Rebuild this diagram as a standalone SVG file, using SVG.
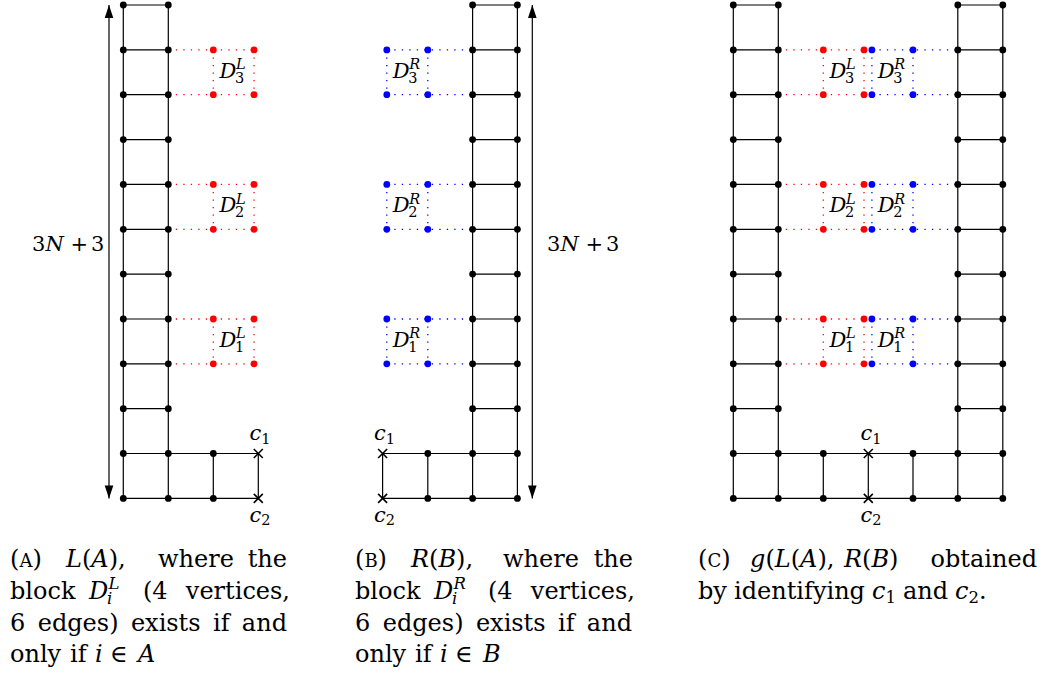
<svg xmlns="http://www.w3.org/2000/svg" width="1042" height="679" viewBox="0 0 1042 679" font-family="'DejaVu Serif', serif">
<style>
.e{fill:none;stroke:#000;stroke-width:1.2}
.r{fill:none;stroke:#f00;stroke-width:1.3;stroke-dasharray:1.3 6.2}
.b{fill:none;stroke:#00f;stroke-width:1.3;stroke-dasharray:1.3 6.2}
.ar{fill:none;stroke:#000;stroke-width:1.2}
text{font-family:"DejaVu Serif",serif;fill:#000}
.it{font-style:italic}
.up{font-style:normal}
.fl{font-size:21px}
.fs{font-size:14.5px}
.cp{font-size:24px}
.cs{font-size:16.5px}
.sc{font-size:18px}
</style>
<defs>
<circle id="v" r="3.4" fill="#000"/>
<circle id="vr" r="3.4" fill="#f00"/>
<circle id="vb" r="3.4" fill="#00f"/>
<path id="cx" d="M-4.5 -4.5L4.5 4.5M-4.5 4.5L4.5 -4.5" stroke="#000" stroke-width="1.6" fill="none"/>
<marker id="ah" markerUnits="userSpaceOnUse" markerWidth="16" markerHeight="12" viewBox="-14 -6 16 12" refX="0" refY="0" orient="auto-start-reverse">
<path d="M0 0L-13 -4.3L-13 4.3Z" fill="#000"/>
</marker>
</defs>
<rect width="1042" height="679" fill="#fff"/>

<g id="connectors">
<path class="e" d="M123.3 5V498.4M168.3 5V498.4M123.3 5H168.3M123.3 49.9H168.3M123.3 94.7H168.3M123.3 139.6H168.3M123.3 184.4H168.3M123.3 229.3H168.3M123.3 274.1H168.3M123.3 319H168.3M123.3 363.8H168.3M123.3 408.7H168.3M123.3 453.5H258.3M123.3 498.4H258.3M213.3 453.5V498.4M258.3 453.5V498.4"/>
<path class="r" d="M168.3 49.9H254M168.3 94.7H254M213.3 49.9V94.7M254 49.9V94.7M168.3 184.4H254M168.3 229.3H254M213.3 184.4V229.3M254 184.4V229.3M168.3 319H254M168.3 363.8H254M213.3 319V363.8M254 319V363.8"/>
<path class="e" d="M472.6 5V498.4M517.4 5V498.4M472.6 5H517.4M472.6 49.9H517.4M472.6 94.7H517.4M472.6 139.6H517.4M472.6 184.4H517.4M472.6 229.3H517.4M472.6 274.1H517.4M472.6 319H517.4M472.6 363.8H517.4M472.6 408.7H517.4M382.6 453.5H517.4M382.6 498.4H517.4M382.6 453.5V498.4M427.8 453.5V498.4"/>
<path class="b" d="M386.8 49.9H472.6M386.8 94.7H472.6M386.8 49.9V94.7M427.8 49.9V94.7M386.8 184.4H472.6M386.8 229.3H472.6M386.8 184.4V229.3M427.8 184.4V229.3M386.8 319H472.6M386.8 363.8H472.6M386.8 319V363.8M427.8 319V363.8"/>
<path class="e" d="M733.3 5V498.4M778.3 5V498.4M957.8 5V498.4M1002.8 5V498.4M733.3 5H778.3M733.3 49.9H778.3M733.3 94.7H778.3M733.3 139.6H778.3M733.3 184.4H778.3M733.3 229.3H778.3M733.3 274.1H778.3M733.3 319H778.3M733.3 363.8H778.3M733.3 408.7H778.3M957.8 5H1002.8M957.8 49.9H1002.8M957.8 94.7H1002.8M957.8 139.6H1002.8M957.8 184.4H1002.8M957.8 229.3H1002.8M957.8 274.1H1002.8M957.8 319H1002.8M957.8 363.8H1002.8M957.8 408.7H1002.8M733.3 453.5H1002.8M733.3 498.4H1002.8M823.3 453.5V498.4M868.3 453.5V498.4M913 453.5V498.4"/>
<path class="r" d="M778.3 49.9H864M778.3 94.7H864M823.3 49.9V94.7M864 49.9V94.7M778.3 184.4H864M778.3 229.3H864M823.3 184.4V229.3M864 184.4V229.3M778.3 319H864M778.3 363.8H864M823.3 319V363.8M864 319V363.8"/>
<path class="b" d="M871.9 49.9H957.8M871.9 94.7H957.8M871.9 49.9V94.7M913 49.9V94.7M871.9 184.4H957.8M871.9 229.3H957.8M871.9 184.4V229.3M913 184.4V229.3M871.9 319H957.8M871.9 363.8H957.8M871.9 319V363.8M913 319V363.8"/>
<line id="A-height" class="ar" x1="109" y1="5" x2="109" y2="498.4" marker-start="url(#ah)" marker-end="url(#ah)"/>
<line id="B-height" class="ar" x1="532.3" y1="5" x2="532.3" y2="498.4" marker-start="url(#ah)" marker-end="url(#ah)"/>
</g>

<g id="panelA">
<g id="A-ladder">
<use href="#v" x="123.3" y="5"/><use href="#v" x="168.3" y="5"/>
<use href="#v" x="123.3" y="49.9"/><use href="#v" x="168.3" y="49.9"/>
<use href="#v" x="123.3" y="94.7"/><use href="#v" x="168.3" y="94.7"/>
<use href="#v" x="123.3" y="139.6"/><use href="#v" x="168.3" y="139.6"/>
<use href="#v" x="123.3" y="184.4"/><use href="#v" x="168.3" y="184.4"/>
<use href="#v" x="123.3" y="229.3"/><use href="#v" x="168.3" y="229.3"/>
<use href="#v" x="123.3" y="274.1"/><use href="#v" x="168.3" y="274.1"/>
<use href="#v" x="123.3" y="319"/><use href="#v" x="168.3" y="319"/>
<use href="#v" x="123.3" y="363.8"/><use href="#v" x="168.3" y="363.8"/>
<use href="#v" x="123.3" y="408.7"/><use href="#v" x="168.3" y="408.7"/>
<use href="#v" x="123.3" y="453.5"/><use href="#v" x="168.3" y="453.5"/>
<use href="#v" x="123.3" y="498.4"/><use href="#v" x="168.3" y="498.4"/>
</g>
<g id="A-base">
<use href="#v" x="213.3" y="453.5"/><use href="#v" x="213.3" y="498.4"/>
</g>
<g id="A-c1"><use href="#cx" x="258.3" y="453.5"/><text class="fl it" x="249.5" y="440">c<tspan class="fs up" dy="3.5">1</tspan></text></g>
<g id="A-c2"><use href="#cx" x="258.3" y="498.4"/><text class="fl it" x="249.5" y="521.5">c<tspan class="fs up" dy="3.5">2</tspan></text></g>
<g id="A-D3">
<use href="#vr" x="213.3" y="49.9"/><use href="#vr" x="254" y="49.9"/><use href="#vr" x="213.3" y="94.7"/><use href="#vr" x="254" y="94.7"/>
<text class="fl it" x="219.5" y="77.5">D<tspan class="fs" x="236" dy="-8.5">L</tspan><tspan class="fs up" x="235" dy="13.5">3</tspan></text>
</g>
<g id="A-D2">
<use href="#vr" x="213.3" y="184.4"/><use href="#vr" x="254" y="184.4"/><use href="#vr" x="213.3" y="229.3"/><use href="#vr" x="254" y="229.3"/>
<text class="fl it" x="219.5" y="212">D<tspan class="fs" x="236" dy="-8.5">L</tspan><tspan class="fs up" x="235" dy="13.5">2</tspan></text>
</g>
<g id="A-D1">
<use href="#vr" x="213.3" y="319"/><use href="#vr" x="254" y="319"/><use href="#vr" x="213.3" y="363.8"/><use href="#vr" x="254" y="363.8"/>
<text class="fl it" x="219.5" y="346.6">D<tspan class="fs" x="236" dy="-8.5">L</tspan><tspan class="fs up" x="235" dy="13.5">1</tspan></text>
</g>
<g id="A-label"><text class="fl" x="32" y="251">3<tspan class="it">N</tspan><tspan x="70.5">+</tspan><tspan x="91">3</tspan></text></g>
</g>

<g id="panelB">
<g id="B-ladder">
<use href="#v" x="472.6" y="5"/><use href="#v" x="517.4" y="5"/>
<use href="#v" x="472.6" y="49.9"/><use href="#v" x="517.4" y="49.9"/>
<use href="#v" x="472.6" y="94.7"/><use href="#v" x="517.4" y="94.7"/>
<use href="#v" x="472.6" y="139.6"/><use href="#v" x="517.4" y="139.6"/>
<use href="#v" x="472.6" y="184.4"/><use href="#v" x="517.4" y="184.4"/>
<use href="#v" x="472.6" y="229.3"/><use href="#v" x="517.4" y="229.3"/>
<use href="#v" x="472.6" y="274.1"/><use href="#v" x="517.4" y="274.1"/>
<use href="#v" x="472.6" y="319"/><use href="#v" x="517.4" y="319"/>
<use href="#v" x="472.6" y="363.8"/><use href="#v" x="517.4" y="363.8"/>
<use href="#v" x="472.6" y="408.7"/><use href="#v" x="517.4" y="408.7"/>
<use href="#v" x="472.6" y="453.5"/><use href="#v" x="517.4" y="453.5"/>
<use href="#v" x="472.6" y="498.4"/><use href="#v" x="517.4" y="498.4"/>
</g>
<g id="B-base">
<use href="#v" x="427.8" y="453.5"/><use href="#v" x="427.8" y="498.4"/>
</g>
<g id="B-c1"><use href="#cx" x="382.6" y="453.5"/><text class="fl it" x="374" y="440">c<tspan class="fs up" dy="3.5">1</tspan></text></g>
<g id="B-c2"><use href="#cx" x="382.6" y="498.4"/><text class="fl it" x="374" y="521.5">c<tspan class="fs up" dy="3.5">2</tspan></text></g>
<g id="B-D3">
<use href="#vb" x="386.8" y="49.9"/><use href="#vb" x="427.8" y="49.9"/><use href="#vb" x="386.8" y="94.7"/><use href="#vb" x="427.8" y="94.7"/>
<text class="fl it" x="392.8" y="77.5">D<tspan class="fs" x="409.3" dy="-8.5">R</tspan><tspan class="fs up" x="408.3" dy="13.5">3</tspan></text>
</g>
<g id="B-D2">
<use href="#vb" x="386.8" y="184.4"/><use href="#vb" x="427.8" y="184.4"/><use href="#vb" x="386.8" y="229.3"/><use href="#vb" x="427.8" y="229.3"/>
<text class="fl it" x="392.8" y="212">D<tspan class="fs" x="409.3" dy="-8.5">R</tspan><tspan class="fs up" x="408.3" dy="13.5">2</tspan></text>
</g>
<g id="B-D1">
<use href="#vb" x="386.8" y="319"/><use href="#vb" x="427.8" y="319"/><use href="#vb" x="386.8" y="363.8"/><use href="#vb" x="427.8" y="363.8"/>
<text class="fl it" x="392.8" y="346.6">D<tspan class="fs" x="409.3" dy="-8.5">R</tspan><tspan class="fs up" x="408.3" dy="13.5">1</tspan></text>
</g>
<g id="B-label"><text class="fl" x="547" y="251">3<tspan class="it">N</tspan><tspan x="585.5">+</tspan><tspan x="606">3</tspan></text></g>
</g>

<g id="panelC">
<g id="C-left-ladder">
<use href="#v" x="733.3" y="5"/><use href="#v" x="778.3" y="5"/>
<use href="#v" x="733.3" y="49.9"/><use href="#v" x="778.3" y="49.9"/>
<use href="#v" x="733.3" y="94.7"/><use href="#v" x="778.3" y="94.7"/>
<use href="#v" x="733.3" y="139.6"/><use href="#v" x="778.3" y="139.6"/>
<use href="#v" x="733.3" y="184.4"/><use href="#v" x="778.3" y="184.4"/>
<use href="#v" x="733.3" y="229.3"/><use href="#v" x="778.3" y="229.3"/>
<use href="#v" x="733.3" y="274.1"/><use href="#v" x="778.3" y="274.1"/>
<use href="#v" x="733.3" y="319"/><use href="#v" x="778.3" y="319"/>
<use href="#v" x="733.3" y="363.8"/><use href="#v" x="778.3" y="363.8"/>
<use href="#v" x="733.3" y="408.7"/><use href="#v" x="778.3" y="408.7"/>
<use href="#v" x="733.3" y="453.5"/><use href="#v" x="778.3" y="453.5"/>
<use href="#v" x="733.3" y="498.4"/><use href="#v" x="778.3" y="498.4"/>
</g>
<g id="C-right-ladder">
<use href="#v" x="957.8" y="5"/><use href="#v" x="1002.8" y="5"/>
<use href="#v" x="957.8" y="49.9"/><use href="#v" x="1002.8" y="49.9"/>
<use href="#v" x="957.8" y="94.7"/><use href="#v" x="1002.8" y="94.7"/>
<use href="#v" x="957.8" y="139.6"/><use href="#v" x="1002.8" y="139.6"/>
<use href="#v" x="957.8" y="184.4"/><use href="#v" x="1002.8" y="184.4"/>
<use href="#v" x="957.8" y="229.3"/><use href="#v" x="1002.8" y="229.3"/>
<use href="#v" x="957.8" y="274.1"/><use href="#v" x="1002.8" y="274.1"/>
<use href="#v" x="957.8" y="319"/><use href="#v" x="1002.8" y="319"/>
<use href="#v" x="957.8" y="363.8"/><use href="#v" x="1002.8" y="363.8"/>
<use href="#v" x="957.8" y="408.7"/><use href="#v" x="1002.8" y="408.7"/>
<use href="#v" x="957.8" y="453.5"/><use href="#v" x="1002.8" y="453.5"/>
<use href="#v" x="957.8" y="498.4"/><use href="#v" x="1002.8" y="498.4"/>
</g>
<g id="C-base">
<use href="#v" x="823.3" y="453.5"/><use href="#v" x="823.3" y="498.4"/>
<use href="#v" x="913" y="453.5"/><use href="#v" x="913" y="498.4"/>
</g>
<g id="C-c1"><use href="#cx" x="868.3" y="453.5"/><text class="fl it" x="860.5" y="440">c<tspan class="fs up" dy="3.5">1</tspan></text></g>
<g id="C-c2"><use href="#cx" x="868.3" y="498.4"/><text class="fl it" x="860.5" y="521.5">c<tspan class="fs up" dy="3.5">2</tspan></text></g>
<g id="C-DL3">
<use href="#vr" x="823.3" y="49.9"/><use href="#vr" x="864" y="49.9"/><use href="#vr" x="823.3" y="94.7"/><use href="#vr" x="864" y="94.7"/>
<text class="fl it" x="829.5" y="77.5">D<tspan class="fs" x="846" dy="-8.5">L</tspan><tspan class="fs up" x="845" dy="13.5">3</tspan></text>
</g>
<g id="C-DR3">
<use href="#vb" x="871.9" y="49.9"/><use href="#vb" x="913" y="49.9"/><use href="#vb" x="871.9" y="94.7"/><use href="#vb" x="913" y="94.7"/>
<text class="fl it" x="877.8" y="77.5">D<tspan class="fs" x="894.3" dy="-8.5">R</tspan><tspan class="fs up" x="893.3" dy="13.5">3</tspan></text>
</g>
<g id="C-DL2">
<use href="#vr" x="823.3" y="184.4"/><use href="#vr" x="864" y="184.4"/><use href="#vr" x="823.3" y="229.3"/><use href="#vr" x="864" y="229.3"/>
<text class="fl it" x="829.5" y="212">D<tspan class="fs" x="846" dy="-8.5">L</tspan><tspan class="fs up" x="845" dy="13.5">2</tspan></text>
</g>
<g id="C-DR2">
<use href="#vb" x="871.9" y="184.4"/><use href="#vb" x="913" y="184.4"/><use href="#vb" x="871.9" y="229.3"/><use href="#vb" x="913" y="229.3"/>
<text class="fl it" x="877.8" y="212">D<tspan class="fs" x="894.3" dy="-8.5">R</tspan><tspan class="fs up" x="893.3" dy="13.5">2</tspan></text>
</g>
<g id="C-DL1">
<use href="#vr" x="823.3" y="319"/><use href="#vr" x="864" y="319"/><use href="#vr" x="823.3" y="363.8"/><use href="#vr" x="864" y="363.8"/>
<text class="fl it" x="829.5" y="346.6">D<tspan class="fs" x="846" dy="-8.5">L</tspan><tspan class="fs up" x="845" dy="13.5">1</tspan></text>
</g>
<g id="C-DR1">
<use href="#vb" x="871.9" y="319"/><use href="#vb" x="913" y="319"/><use href="#vb" x="871.9" y="363.8"/><use href="#vb" x="913" y="363.8"/>
<text class="fl it" x="877.8" y="346.6">D<tspan class="fs" x="894.3" dy="-8.5">R</tspan><tspan class="fs up" x="893.3" dy="13.5">1</tspan></text>
</g>
</g>

<g id="captionA">
<text class="cp" x="10" y="567">(<tspan class="sc">A</tspan>)<tspan x="66" class="it">L</tspan>(<tspan class="it">A</tspan>),<tspan x="158">where</tspan></text>
<text class="cp" x="287" y="567" text-anchor="end">the</text>
<text class="cp" x="10" y="599">block<tspan x="89" class="it">D</tspan><tspan class="cs it" x="108.5" dy="-10">L</tspan><tspan class="cs it" x="107" dy="15">i</tspan><tspan x="143" dy="-5">(4</tspan></text>
<text class="cp" x="290" y="599" text-anchor="end">vertices,</text>
<text class="cp" x="10" y="631">6<tspan x="37.7">edges)</tspan><tspan x="130.9">exists</tspan><tspan x="213">if</tspan></text>
<text class="cp" x="287" y="631" text-anchor="end">and</text>
<text class="cp" x="10" y="662">only<tspan x="70">if</tspan><tspan x="95" class="it">i</tspan><tspan x="110">∈</tspan><tspan x="138" class="it">A</tspan></text>
</g>

<g id="captionB">
<text class="cp" x="355" y="567">(<tspan class="sc">B</tspan>)<tspan x="411" class="it">R</tspan>(<tspan class="it">B</tspan>),<tspan x="503">where</tspan></text>
<text class="cp" x="633" y="567" text-anchor="end">the</text>
<text class="cp" x="355" y="599">block<tspan x="434" class="it">D</tspan><tspan class="cs it" x="453.5" dy="-10">R</tspan><tspan class="cs it" x="452" dy="15">i</tspan><tspan x="488" dy="-5">(4</tspan></text>
<text class="cp" x="635" y="599" text-anchor="end">vertices,</text>
<text class="cp" x="355" y="631">6<tspan x="382.7">edges)</tspan><tspan x="475.9">exists</tspan><tspan x="558">if</tspan></text>
<text class="cp" x="632" y="631" text-anchor="end">and</text>
<text class="cp" x="355" y="662">only<tspan x="415">if</tspan><tspan x="440" class="it">i</tspan><tspan x="455">∈</tspan><tspan x="483" class="it">B</tspan></text>
</g>

<g id="captionC">
<text class="cp" x="698" y="567">(<tspan class="sc">C</tspan>)<tspan x="750" class="it">g</tspan>(<tspan class="it">L</tspan>(<tspan class="it">A</tspan>),<tspan x="844" class="it">R</tspan>(<tspan class="it">B</tspan>)</text>
<text class="cp" x="1037" y="567" text-anchor="end">obtained</text>
<text class="cp" x="698" y="599">by<tspan x="734">identifying</tspan><tspan x="872" class="it">c</tspan><tspan class="cs" dy="4">1</tspan><tspan x="903" dy="-4">and</tspan><tspan x="955" class="it">c</tspan><tspan class="cs" dy="4">2</tspan><tspan dy="-4">.</tspan></text>
</g>
</svg>
